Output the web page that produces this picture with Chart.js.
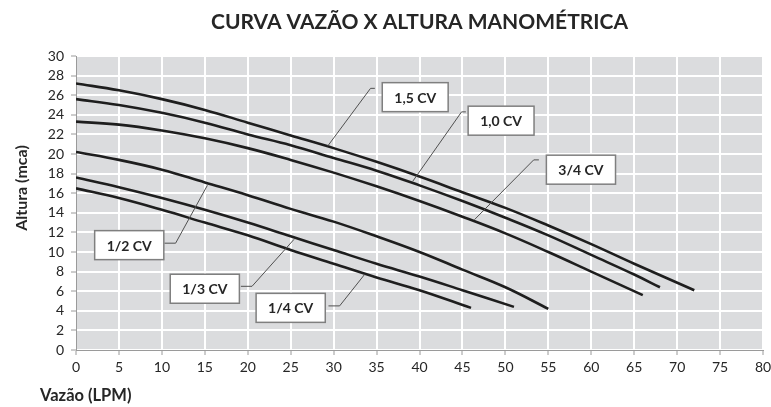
<!DOCTYPE html>
<html lang="pt-BR">
<head>
<meta charset="utf-8">
<title>Curva Vazão x Altura Manométrica</title>
<script src="https://cdn.jsdelivr.net/npm/chart.js@4.4.1/dist/chart.umd.min.js"></script>
<style>
    html, body { margin: 0; padding: 0; background: #ffffff; }
    #wrap { width: 771px; height: 407px; position: relative; }
</style>
</head>
<body>
<div id="wrap"><canvas id="chart"></canvas></div>
<script>
// Vazão (LPM) x Altura (mca)
const flow15 = [0, 5, 10, 15, 20, 25, 30, 35, 40, 45, 50, 55, 60, 65, 72];
const head15 = [27.2, 26.5, 25.6, 24.5, 23.2, 21.9, 20.6, 19.2, 17.7, 16.1, 14.5, 12.7, 10.8, 8.8, 6.1];

const flow10 = [0, 5, 10, 15, 20, 25, 30, 35, 40, 45, 50, 55, 60, 65, 68];
const head10 = [25.6, 25.0, 24.2, 23.2, 22.0, 20.9, 19.6, 18.3, 16.8, 15.2, 13.5, 11.7, 9.7, 7.7, 6.4];

const flow34 = [0, 5, 10, 15, 20, 25, 30, 35, 40, 45, 50, 55, 60, 66];
const head34 = [23.3, 23.0, 22.4, 21.6, 20.6, 19.4, 18.1, 16.7, 15.2, 13.6, 11.9, 10.0, 8.0, 5.6];

const flow12 = [0, 5, 10, 15, 20, 25, 30, 35, 40, 45, 50, 55];
const head12 = [20.2, 19.4, 18.4, 17.1, 15.8, 14.4, 13.1, 11.6, 10.0, 8.2, 6.4, 4.2];

const flow13 = [0, 5, 10, 15, 20, 25, 30, 35, 40, 45, 51];
const head13 = [17.6, 16.6, 15.5, 14.3, 13.0, 11.6, 10.2, 8.8, 7.5, 6.1, 4.4];

const flow14 = [0, 5, 10, 15, 20, 25, 30, 35, 40, 46];
const head14 = [16.5, 15.5, 14.3, 13.0, 11.7, 10.2, 8.8, 7.4, 6.1, 4.3];

const seriesNames = ['1,5 CV', '1,0 CV', '3/4 CV', '1/2 CV', '1/3 CV', '1/4 CV'];

const xTicks = { min: 0, max: 80, step: 5 };
const yTicks = { min: 0, max: 30, step: 2 };

// callout boxes: box centre and leader line, in data units
const callouts = [
    { text: '1,5 CV', box: [39.5, 25.8], leader: [[34.8, 26.7], [34.3, 26.7], [29.3, 20.8]] },
    { text: '1,0 CV', box: [49.5, 23.4], leader: [[45.4, 24.3], [44.9, 24.3], [39.2, 17.2]] },
    { text: '3/4 CV', box: [58.8, 18.4], leader: [[53.9, 19.4], [53.3, 19.4], [46.4, 13.3]] },
    { text: '1/2 CV', box: [6.2, 10.7], leader: [[10.3, 10.9], [11.6, 10.9], [15.3, 16.8]] },
    { text: '1/3 CV', box: [15.0, 6.25], leader: [[19.2, 6.5], [20.5, 6.5], [25.4, 11.3]] },
    { text: '1/4 CV', box: [25.0, 4.3], leader: [[29.4, 4.5], [30.7, 4.5], [33.6, 7.7]] },
];

function toPoints(xs, ys) {
    return xs.map((x, i) => ({ x, y: ys[i] }));
}

const curves = [
    toPoints(flow15, head15),
    toPoints(flow10, head10),
    toPoints(flow34, head34),
    toPoints(flow12, head12),
    toPoints(flow13, head13),
    toPoints(flow14, head14),
];

const FONT = 'Lato, "Open Sans", "DejaVu Sans", sans-serif';

const plotBackground = {
    id: 'plotBackground',
    beforeDraw(chart) {
        const ctx = chart.ctx;
        const a = chart.chartArea;
        ctx.save();
        ctx.fillStyle = '#dbdcde';
        ctx.fillRect(a.left, a.top, a.right - a.left, a.bottom - a.top);
        ctx.restore();
    },
};

const axisTitles = {
    id: 'axisTitles',
    afterDraw(chart) {
        const { ctx, chartArea: a } = chart;
        ctx.save();
        ctx.fillStyle = '#262626';
        ctx.font = `bold 16.5px ${FONT}`;
        ctx.textBaseline = 'middle';
        ctx.textAlign = 'left';
        ctx.fillText('Vazão (LPM)', 40, 396);
        ctx.font = `bold 16px ${FONT}`;
        ctx.translate(22, a.top + 132);
        ctx.rotate(-Math.PI / 2);
        ctx.textAlign = 'center';
        ctx.fillText('Altura (mca)', 0, 0);
        ctx.restore();
    },
};

const calloutPlugin = {
    id: 'callouts',
    afterDatasetsDraw(chart) {
        const { ctx, scales: { x, y } } = chart;
        ctx.save();
        callouts.forEach((c) => {
            ctx.strokeStyle = '#505050';
            ctx.lineWidth = 1;
            ctx.beginPath();
            c.leader.forEach(([lx, ly], i) => {
                const px = x.getPixelForValue(lx);
                const py = y.getPixelForValue(ly);
                if (i === 0) ctx.moveTo(px, py); else ctx.lineTo(px, py);
            });
            ctx.stroke();

            ctx.font = `bold 14px ${FONT}`;
            const w = ctx.measureText(c.text).width + 24;
            const h = 29;
            const cx = x.getPixelForValue(c.box[0]);
            const cy = y.getPixelForValue(c.box[1]);
            ctx.fillStyle = '#ffffff';
            ctx.fillRect(cx - w / 2, cy - h / 2, w, h);
            ctx.strokeStyle = '#7f7f7f';
            ctx.lineWidth = 1.5;
            ctx.strokeRect(cx - w / 2, cy - h / 2, w, h);
            ctx.fillStyle = '#262626';
            ctx.textAlign = 'center';
            ctx.textBaseline = 'middle';
            ctx.fillText(c.text, cx, cy + 1);
        });
        ctx.restore();
    },
};

new Chart(document.getElementById('chart'), {
    type: 'line',
    data: {
        datasets: curves.map((points, i) => ({
            label: seriesNames[i],
            data: points,
            borderColor: '#1e1e1e',
            borderWidth: 2.6,
            pointRadius: 0,
            fill: false,
            tension: 0.4,
        })),
    },
    options: {
        responsive: true,
        maintainAspectRatio: false,
        animation: false,
        layout: { padding: { left: 0, right: 0, top: 0, bottom: 0 } },
        plugins: {
            legend: { display: false },
            tooltip: { enabled: false },
            title: {
                display: true,
                text: 'CURVA VAZÃO X ALTURA MANOMÉTRICA',
                fullSize: false,
                color: '#262626',
                font: { family: FONT, size: 21, weight: 'bold' },
                padding: { top: 10, bottom: 20.8 },
            },
        },
        scales: {
            x: {
                type: 'linear',
                min: xTicks.min,
                max: xTicks.max,
                afterFit(scale) {
                    scale.height = 57;
                    scale.paddingRight = 8;
                    scale.paddingLeft = 0;
                },
                grid: { color: '#ffffff', lineWidth: 2, tickColor: '#9a9a9a', tickLength: 5, tickWidth: 1 },
                border: { color: '#9a9a9a', width: 1 },
                ticks: {
                    stepSize: xTicks.step,
                    autoSkip: false,
                    color: '#262626',
                    font: { family: FONT, size: 14 },
                    maxRotation: 0,
                    padding: 4,
                },
            },
            y: {
                min: yTicks.min,
                max: yTicks.max,
                afterFit(scale) { scale.width = 76; },
                grid: { color: '#ffffff', lineWidth: 2, tickColor: '#9a9a9a', tickLength: 5, tickWidth: 1 },
                border: { color: '#9a9a9a', width: 1 },
                ticks: {
                    stepSize: yTicks.step,
                    autoSkip: false,
                    color: '#262626',
                    font: { family: FONT, size: 14 },
                    padding: 7,
                },
            },
        },
    },
    plugins: [plotBackground, axisTitles, calloutPlugin],
});
</script>
</body>
</html>
